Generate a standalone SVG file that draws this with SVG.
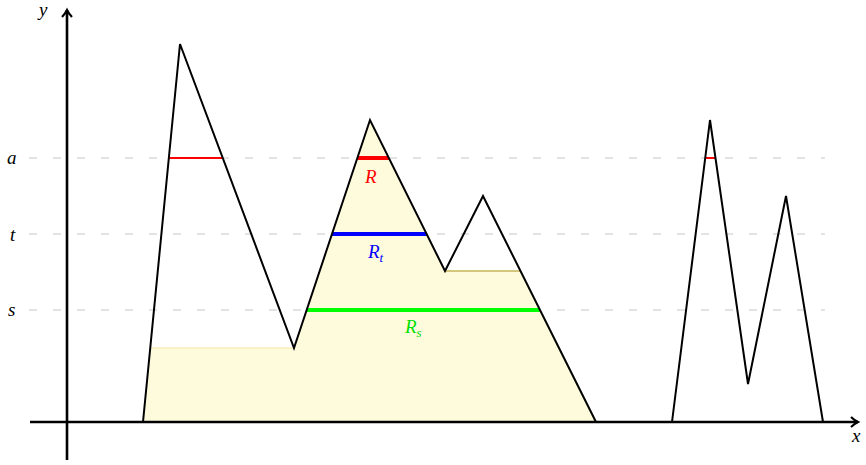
<svg xmlns="http://www.w3.org/2000/svg" width="866" height="465" viewBox="0 0 866 465">
<defs>
<marker id="arr2" viewBox="0 0 12 12" refX="9" refY="6" markerWidth="12" markerHeight="12" orient="auto" markerUnits="userSpaceOnUse">
<path d="M2,1 Q5,4 9,6 Q5,8 2,11" fill="none" stroke="#000" stroke-width="2.2"/>
</marker>
</defs>
<style>
.dash{stroke:#c8c8c8;stroke-width:1.2;stroke-dasharray:8 16;fill:none}
.axis{stroke:#000;stroke-width:2.6;fill:none}
.mtn{stroke:#000;stroke-width:2;fill:none;stroke-linejoin:miter}
.lbl{font-family:"Liberation Serif","DejaVu Serif",serif;font-style:italic;font-size:19px}
.sub{font-size:13px}
</style>
<rect width="866" height="465" fill="#fff"/>
<g id="region">
<polygon points="143,422 150.3,348 294,348 370,120 445,271 520.5,271 596,422" fill="#fefbdd"/>
<line x1="150.3" y1="348" x2="294" y2="348" stroke="#f3e6a0" stroke-width="1"/>
<line x1="445" y1="271" x2="520.5" y2="271" stroke="#c4b457" stroke-width="1.5"/>
</g>
<g id="guides">
<line class="dash" x1="29" y1="158" x2="825" y2="158"/>
<line class="dash" x1="29" y1="234" x2="825" y2="234"/>
<line class="dash" x1="29" y1="310" x2="825" y2="310"/>
</g>
<g id="axes">
<line class="axis" x1="67" y1="460" x2="67" y2="10" marker-end="url(#arr2)"/>
<line class="axis" x1="30" y1="422" x2="858" y2="422" marker-end="url(#arr2)"/>
<text class="lbl" x="39" y="16">y</text>
<text class="lbl" x="852" y="442">x</text>
</g>
<g id="levels">
<line x1="169" y1="158" x2="222.5" y2="158" stroke="#ff0000" stroke-width="2"/>
<line x1="357.3" y1="158" x2="388.9" y2="158" stroke="#ff0000" stroke-width="4"/>
<line x1="705.2" y1="158" x2="715.5" y2="158" stroke="#ff0000" stroke-width="2"/>
<line x1="332" y1="234" x2="426.6" y2="234" stroke="#0000ff" stroke-width="4"/>
<line x1="306.7" y1="310" x2="540" y2="310" stroke="#00ff00" stroke-width="4"/>
</g>
<g id="mountains">
<polyline class="mtn" points="143,422 180,44 294,348 370,120 445,271 483,196 596,422"/>
<polyline class="mtn" points="672,422 710,120 748,384 786,196 823,422"/>
</g>
<g id="labels">
<text class="lbl" x="7" y="164">a</text>
<text class="lbl" x="10" y="241">t</text>
<text class="lbl" x="8" y="316">s</text>
<text class="lbl" x="365" y="183" fill="#ff0000">R</text>
<text class="lbl" x="368" y="258" fill="#0000ff">R<tspan class="sub" dy="4">t</tspan></text>
<text class="lbl" x="405" y="333" fill="#00e000">R<tspan class="sub" dy="4">s</tspan></text>
</g>
</svg>
